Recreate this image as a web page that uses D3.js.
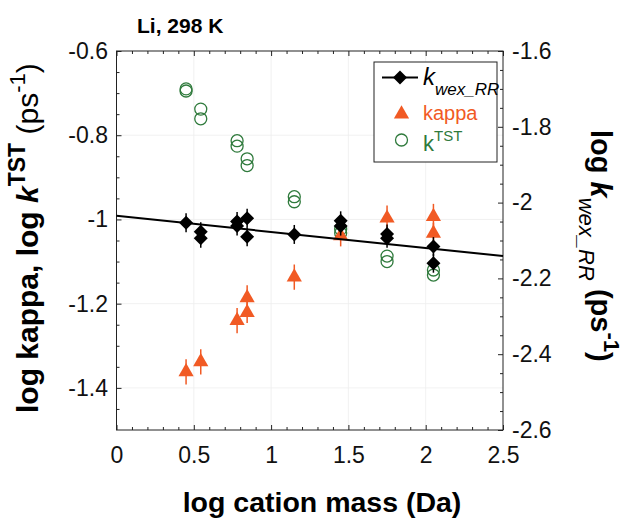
<!DOCTYPE html>
<html>
<head>
<meta charset="utf-8">
<script src="https://cdn.jsdelivr.net/npm/d3@7"></script>
<style>
  body { margin: 0; background: #fff; }
  svg { display: block; font-family: "Liberation Sans", Arial, sans-serif; }
</style>
</head>
<body>
<svg id="svg" width="624" height="518"></svg>
<script>
// k_wex_RR (right axis)
const kwexX = [0.45, 0.545, 0.545, 0.78, 0.78, 0.845, 0.845, 1.15, 1.45, 1.45, 1.75, 1.75, 2.05, 2.05]
const kwexY = [-2.053, -2.077, -2.094, -2.050, -2.062, -2.041, -2.090, -2.084, -2.048, -2.062, -2.083, -2.094, -2.116, -2.160]
const kwexErr = [0.025, 0.025, 0.025, 0.025, 0.025, 0.025, 0.025, 0.025, 0.025, 0.025, 0.025, 0.025, 0.025, 0.025]

// kappa (left axis)
const kappaX = [0.45, 0.545, 0.78, 0.845, 0.845, 1.15, 1.45, 1.75, 2.05, 2.05]
const kappaY = [-1.362, -1.338, -1.240, -1.221, -1.186, -1.137, -1.039, -0.997, -0.993, -1.033]
const kappaErr = [0.03, 0.03, 0.03, 0.025, 0.03, 0.03, 0.025, 0.03, 0.03, 0.025]

// k TST (left axis)
const tstX = [0.45, 0.45, 0.545, 0.545, 0.78, 0.78, 0.845, 0.845, 1.15, 1.15, 1.45, 1.45, 1.75, 1.75, 2.05, 2.05]
const tstY = [-0.690, -0.695, -0.738, -0.761, -0.813, -0.826, -0.856, -0.872, -0.946, -0.958, -1.023, -1.032, -1.087, -1.100, -1.120, -1.132]

// linear fit through k_wex_RR (right axis)
const fitX = [0, 2.5]
const fitY = [-2.035, -2.141]

const xTicks = [0, 0.5, 1, 1.5, 2, 2.5]
const xMinor = [0.1, 0.2, 0.3, 0.4, 0.6, 0.7, 0.8, 0.9, 1.1, 1.2, 1.3, 1.4, 1.6, 1.7, 1.8, 1.9, 2.1, 2.2, 2.3, 2.4]
const yLeftTicks = [-1.4, -1.2, -1, -0.8, -0.6]
const yLeftMinor = [-1.45, -1.35, -1.3, -1.25, -1.15, -1.1, -1.05, -0.95, -0.9, -0.85, -0.75, -0.7, -0.65]
const yRightTicks = [-2.6, -2.4, -2.2, -2, -1.8, -1.6]
const yRightMinor = [-2.55, -2.5, -2.45, -2.35, -2.3, -2.25, -2.15, -2.1, -2.05, -1.95, -1.9, -1.85, -1.75, -1.7, -1.65]

const orange = '#f15a24'
const green = '#2f7a3c'

const plotLeft = 116.5
const plotRight = 503
const plotTop = 51
const plotBottom = 430

const svg = d3.select('#svg')

const x = d3.scaleLinear().domain([0, 2.5]).range([plotLeft, plotRight])
const yL = d3.scaleLinear().domain([-1.5, -0.6]).range([plotBottom, plotTop])
const yR = d3.scaleLinear().domain([-2.6, -1.6]).range([plotBottom, plotTop])

// faint grid
const grid = svg.append('g').attr('stroke', '#eeeeee').attr('stroke-width', 0.8)
grid.selectAll('.gx').data(xTicks.slice(1, -1)).join('line')
  .attr('x1', d => x(d)).attr('x2', d => x(d))
  .attr('y1', plotTop).attr('y2', plotBottom)
grid.selectAll('.gy').data(yLeftTicks.slice(0, -1)).join('line')
  .attr('x1', plotLeft).attr('x2', plotRight)
  .attr('y1', d => yL(d)).attr('y2', d => yL(d))

// axes
const fmt = d => String(d)
const styleAxis = (g, size) => {
  g.select('.domain').remove()
  g.selectAll('line').attr('stroke', '#222').attr('stroke-width', 1)
  g.selectAll('text').attr('font-size', size).attr('fill', '#111')
}

svg.append('g').attr('transform', `translate(0, ${plotBottom})`)
  .call(d3.axisBottom(x).tickValues(xTicks).tickFormat(fmt).tickSize(-5).tickPadding(17))
  .call(g => styleAxis(g, 23))
svg.append('g').attr('transform', `translate(0, ${plotBottom})`)
  .call(d3.axisBottom(x).tickValues(xMinor).tickFormat('').tickSize(-3))
  .call(g => styleAxis(g, 0))
svg.append('g').attr('transform', `translate(0, ${plotTop})`)
  .call(d3.axisTop(x).tickValues(xTicks).tickFormat('').tickSize(-5))
  .call(g => styleAxis(g, 0))
svg.append('g').attr('transform', `translate(0, ${plotTop})`)
  .call(d3.axisTop(x).tickValues(xMinor).tickFormat('').tickSize(-3))
  .call(g => styleAxis(g, 0))

svg.append('g').attr('transform', `translate(${plotLeft}, 0)`)
  .call(d3.axisLeft(yL).tickValues(yLeftTicks).tickFormat(fmt).tickSize(-5).tickPadding(8.5))
  .call(g => styleAxis(g, 23))
svg.append('g').attr('transform', `translate(${plotLeft}, 0)`)
  .call(d3.axisLeft(yL).tickValues(yLeftMinor).tickFormat('').tickSize(-3))
  .call(g => styleAxis(g, 0))

svg.append('g').attr('transform', `translate(${plotRight}, 0)`)
  .call(d3.axisRight(yR).tickValues(yRightTicks).tickFormat(fmt).tickSize(-5).tickPadding(9))
  .call(g => styleAxis(g, 23))
svg.append('g').attr('transform', `translate(${plotRight}, 0)`)
  .call(d3.axisRight(yR).tickValues(yRightMinor).tickFormat('').tickSize(-3))
  .call(g => styleAxis(g, 0))

// frame
svg.append('rect')
  .attr('x', plotLeft).attr('y', plotTop)
  .attr('width', plotRight - plotLeft).attr('height', plotBottom - plotTop)
  .attr('fill', 'none').attr('stroke', '#222').attr('stroke-width', 1)

const plot = svg.append('g')

// k TST circles
plot.selectAll('.tst').data(tstX).join('circle')
  .attr('cx', d => x(d))
  .attr('cy', (d, i) => yL(tstY[i]))
  .attr('r', 6)
  .attr('fill', 'none')
  .attr('stroke', green)
  .attr('stroke-width', 1.3)

// kappa triangles with error bars
const triangle = d3.symbol().type(d3.symbolTriangle).size(100)
plot.selectAll('.kerr').data(kappaX).join('line')
  .attr('x1', d => x(d)).attr('x2', d => x(d))
  .attr('y1', (d, i) => yL(kappaY[i] - kappaErr[i]))
  .attr('y2', (d, i) => yL(kappaY[i] + kappaErr[i]))
  .attr('stroke', orange).attr('stroke-width', 1.5)
plot.selectAll('.kappa').data(kappaX).join('path')
  .attr('d', triangle)
  .attr('transform', (d, i) => `translate(${x(d)}, ${yL(kappaY[i])})`)
  .attr('fill', orange)

// fit line
plot.append('path')
  .datum(fitX.map((d, i) => [d, fitY[i]]))
  .attr('d', d3.line().x(d => x(d[0])).y(d => yR(d[1])))
  .attr('fill', 'none')
  .attr('stroke', '#000')
  .attr('stroke-width', 2)

// k_wex_RR diamonds with error bars
const diamond = d3.symbol().type(d3.symbolDiamond2).size(125)
plot.selectAll('.werr').data(kwexX).join('line')
  .attr('x1', d => x(d)).attr('x2', d => x(d))
  .attr('y1', (d, i) => yR(kwexY[i] - kwexErr[i]))
  .attr('y2', (d, i) => yR(kwexY[i] + kwexErr[i]))
  .attr('stroke', '#000').attr('stroke-width', 1.5)
plot.selectAll('.kwex').data(kwexX).join('path')
  .attr('d', diamond)
  .attr('transform', (d, i) => `translate(${x(d)}, ${yR(kwexY[i])})`)
  .attr('fill', '#000')

// legend
const legend = svg.append('g')
legend.append('rect')
  .attr('x', 374).attr('y', 62).attr('width', 123).attr('height', 100)
  .attr('fill', '#fff').attr('stroke', '#222').attr('stroke-width', 1)
legend.append('line')
  .attr('x1', 382).attr('x2', 418).attr('y1', 77.5).attr('y2', 77.5)
  .attr('stroke', '#000').attr('stroke-width', 2)
legend.append('path').attr('d', diamond).attr('transform', 'translate(400, 77.5)')
const lt1 = legend.append('text').attr('x', 423).attr('y', 85).attr('fill', '#000')
lt1.append('tspan').attr('font-size', 24).attr('font-style', 'italic').text('k')
lt1.append('tspan').attr('font-size', 17).attr('font-style', 'italic').attr('dy', 10).text('wex_RR')

legend.append('path').attr('d', triangle).attr('transform', 'translate(401.5, 114)').attr('fill', orange)
legend.append('text').attr('x', 423).attr('y', 120).attr('font-size', 20).attr('fill', orange).text('kappa')

legend.append('circle').attr('cx', 401.5).attr('cy', 140).attr('r', 6)
  .attr('fill', 'none').attr('stroke', green).attr('stroke-width', 1.3)
const lt3 = legend.append('text').attr('x', 423).attr('y', 151).attr('fill', green)
lt3.append('tspan').attr('font-size', 22).text('k')
lt3.append('tspan').attr('font-size', 15).attr('dy', -10).text('TST')

// titles
svg.append('text').attr('x', 137).attr('y', 33)
  .attr('font-size', 21).attr('font-weight', 'bold').text('Li, 298 K')

svg.append('text').attr('x', 322).attr('y', 512)
  .attr('text-anchor', 'middle').attr('font-size', 28.5).attr('font-weight', 'bold')
  .text('log cation mass (Da)')

const yTitle = svg.append('text')
  .attr('transform', 'translate(38, 413) rotate(-90)')
  .attr('font-size', 30).attr('font-weight', 'bold')
yTitle.append('tspan').text('log kappa, log ')
yTitle.append('tspan').attr('font-style', 'italic').text('k')
yTitle.append('tspan').attr('font-size', 23).attr('dy', -13).text('TST')
yTitle.append('tspan').attr('font-weight', 'normal').attr('dy', 13).text(' (ps')
yTitle.append('tspan').attr('font-weight', 'normal').attr('font-size', 22).attr('dy', -13).text('-1')
yTitle.append('tspan').attr('font-weight', 'normal').attr('dy', 13).text(')')

const rTitle = svg.append('text')
  .attr('transform', 'translate(591, 130) rotate(90)')
  .attr('font-size', 29).attr('font-weight', 'bold')
rTitle.append('tspan').text('log ')
rTitle.append('tspan').attr('font-style', 'italic').text('k')
rTitle.append('tspan').attr('font-size', 22).attr('font-weight', 'normal').attr('font-style', 'italic').attr('dy', 12).text('wex_RR')
rTitle.append('tspan').attr('dy', -12).text(' (ps')
rTitle.append('tspan').attr('font-size', 22).attr('dy', -13).text('-1')
rTitle.append('tspan').attr('dy', 13).text(')')
</script>
</body>
</html>
